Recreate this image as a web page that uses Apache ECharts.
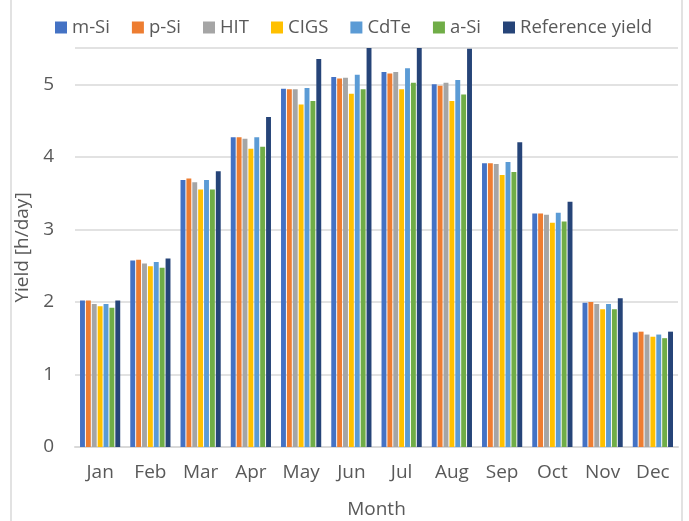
<!DOCTYPE html>
<html>
<head>
<meta charset="utf-8">
<style>
    html, body { margin: 0; padding: 0; background: #fff; }
    #chart { width: 689px; height: 521px; }
</style>
</head>
<body>
<div id="chart"></div>
<script src="https://cdn.jsdelivr.net/npm/echarts@6/dist/echarts.min.js"></script>
<script>
    // values (h/day)
    var months = ["Jan", "Feb", "Mar", "Apr", "May", "Jun", "Jul", "Aug", "Sep", "Oct", "Nov", "Dec"];
    var mSi  = [2.02, 2.57, 3.68, 4.27, 4.94, 5.10, 5.17, 5.00, 3.91, 3.22, 1.99, 1.58];
    var pSi  = [2.02, 2.58, 3.70, 4.27, 4.93, 5.08, 5.15, 4.98, 3.91, 3.22, 2.00, 1.59];
    var hit  = [1.97, 2.53, 3.65, 4.25, 4.93, 5.09, 5.17, 5.02, 3.90, 3.20, 1.97, 1.55];
    var cigs = [1.94, 2.49, 3.55, 4.11, 4.72, 4.87, 4.93, 4.77, 3.75, 3.09, 1.90, 1.52];
    var cdte = [1.97, 2.55, 3.68, 4.27, 4.95, 5.13, 5.22, 5.06, 3.93, 3.23, 1.97, 1.55];
    var aSi  = [1.92, 2.47, 3.55, 4.14, 4.77, 4.93, 5.02, 4.86, 3.79, 3.11, 1.90, 1.50];
    var refYield = [2.02, 2.60, 3.80, 4.55, 5.35, 5.60, 5.60, 5.49, 4.20, 3.38, 2.05, 1.59];

    var names  = ["m-Si", "p-Si", "HIT", "CIGS", "CdTe", "a-Si", "Reference yield"];
    var colors = ["#4472c4", "#ed7d31", "#a5a5a5", "#ffc000", "#5b9bd5", "#70ad47", "#264478"];
    var data   = [mSi, pSi, hit, cigs, cdte, aSi, refYield];

    var txt = "#595959";
    var font = "Open Sans";

    var myChart = echarts.init(document.getElementById("chart"));

    var series = [];
    for (let i = 0; i < names.length; i++) {
        series.push({
            name: names[i],
            type: "bar",
            data: data[i],
            clip: true,
            barGap: "20%",
            barCategoryGap: "20%",
            itemStyle: { color: colors[i] }
        });
    }

    var option = {
        animation: false,
        textStyle: { fontFamily: font },
        color: colors,
        legend: {
            top: 13,
            left: 50,
            itemWidth: 12,
            itemHeight: 12,
            itemGap: 22,
            icon: "rect",
            textStyle: { color: txt, fontSize: 18.5, fontFamily: font }
        },
        grid: { left: 75, right: 11, top: 48, bottom: 74, outerBoundsMode: "none" },
        xAxis: {
            type: "category",
            data: months,
            name: "Month",
            nameLocation: "middle",
            nameGap: 53,
            nameTextStyle: { color: txt, fontSize: 19 },
            axisLine: { lineStyle: { color: "#d9d9d9", width: 2 } },
            axisTick: { show: false },
            axisLabel: { color: txt, fontSize: 19, margin: 16 }
        },
        yAxis: {
            type: "value",
            min: 0,
            max: 5.5,
            interval: 1,
            name: "Yield [h/day]",
            nameLocation: "middle",
            nameGap: 33,
            nameTextStyle: { color: txt, fontSize: 19 },
            axisLine: { show: false },
            axisTick: { show: false },
            axisLabel: { color: txt, fontSize: 19, margin: 21, showMaxLabel: false },
            splitLine: { lineStyle: { color: "#d9d9d9", width: 1.5 } }
        },
        graphic: [
            { type: "line", shape: { x1: 11, y1: 0, x2: 11, y2: 521 }, style: { stroke: "#d9d9d9", lineWidth: 1.5 } },
            { type: "line", shape: { x1: 682, y1: 0, x2: 682, y2: 521 }, style: { stroke: "#d9d9d9", lineWidth: 1.5 } }
        ],
        series: series
    };
    option && myChart.setOption(option);
</script>
</body>
</html>
